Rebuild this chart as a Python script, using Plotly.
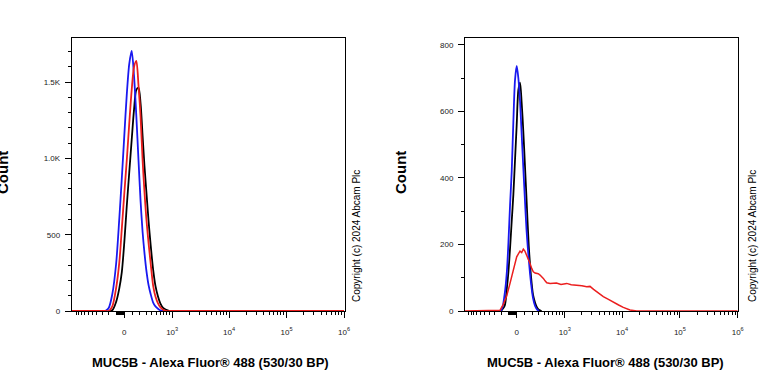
import numpy as np
import plotly.graph_objects as go

# ---------------- data ----------------
# Left panel: fluorescence intensity bins and counts
left_x = [-1500, -250, -200, -150, -100, -60, -30, 0, 30, 60, 90, 120, 150, 180, 210,
          240, 270, 300, 340, 380, 430, 480, 540, 600, 680, 780, 900, 1050, 1000000]
left_blue = [0, 0, 20, 110, 310, 610, 870, 1150, 1420, 1620, 1705, 1540, 1280, 990, 720,
             520, 380, 270, 170, 110, 55, 30, 15, 5, 0, 0, 0, 0, 0]
left_red = [0, 0, 0, 30, 150, 320, 540, 770, 990, 1230, 1448, 1600, 1640, 1480, 1270,
            990, 780, 610, 445, 310, 165, 95, 50, 25, 8, 0, 0, 0, 0]
left_black = [0, 0, 0, 5, 60, 150, 255, 450, 690, 910, 1121, 1320, 1450, 1465, 1360,
              1150, 950, 790, 590, 430, 270, 165, 95, 50, 20, 8, 0, 0, 0]

# Right panel
right_x = [-1500, -300, -200, -150, -120, -100, -80, -60, -40, -20, 0, 20, 40, 60, 80,
           100, 120, 150, 180, 210, 240, 270, 300, 350, 400, 500, 1000000]
right_blue = [0, 0, 1, 50, 120, 210, 320, 420, 570, 695, 737, 700, 630, 530, 430,
              335, 245, 155, 85, 38, 15, 5, 0, 0, 0, 0, 0]
right_black = [0, 0, 0, 15, 70, 120, 190, 270, 350, 455, 560, 665, 687, 625, 540,
               440, 340, 195, 105, 48, 25, 11, 4, 0, 0, 0, 0]
right_red_x = [-1500, -265, -215, -168, -123, -81, -41, 0, 20, 40, 60, 80, 100, 123, 145,
               167, 190, 213, 240, 265, 290, 321, 350, 382, 420, 452, 529, 700, 850, 1079,
               1300, 1624, 2000, 2431, 2775, 3200, 3627, 4722, 5800, 7038, 8700, 10485,
               13680, 17880, 1000000]
right_red = [0, 0, 2, 20, 45, 83, 125, 163, 172, 180, 176, 186, 180, 168, 155,
             143, 128, 118, 114, 113, 112, 108, 104, 98, 90, 85, 83, 84, 80, 83,
             79, 78, 76, 73, 74, 65, 58, 43, 35, 28, 18, 11, 3, 0, 0]

x_tick_values = [0, 1e3, 1e4, 1e5, 1e6]
x_tick_text = ["0", "10<sup>3</sup>", "10<sup>4</sup>", "10<sup>5</sup>", "10<sup>6</sup>"]
left_y_ticks = [0, 500, 1000, 1500]
left_y_text = ["0", "500", "1.0K", "1.5K"]
right_y_ticks = [0, 200, 400, 600, 800]
right_y_text = ["0", "200", "400", "600", "800"]
x_title = "MUC5B - Alexa Fluor® 488 (530/30 BP)"
y_title = "Count"
copyright_text = "Copyright (c) 2024 Abcam Plc"

# ---------------- biexponential-like display transform ----------------
COF = 300.0


def T(v):
    return np.arcsinh(np.asarray(v, dtype=float) / COF) / np.log(10)


minor_vals = ([-d * 100 for d in range(1, 11)] + [-d * 10 for d in range(1, 10)] +
              [d * 100 for d in range(1, 10)] +
              [m * 10 ** e for e in (3, 4, 5) for m in range(2, 10)])

BLUE = "rgb(25,25,240)"
RED = "rgb(235,30,30)"
BLACK = "rgb(0,0,0)"
FONT = "Arial, Liberation Sans, sans-serif"
W, H = 768, 384

fig = go.Figure()


def add(x, y, color, xa, ya, shape="spline", width=1.8, trim=True):
    x = list(x)
    y = list(y)
    if trim:
        # keep only the drawn hump (with its zero ends), not the long flat baseline
        nz = [i for i, v in enumerate(y) if v > 0]
        i0, i1 = max(nz[0] - 1, 0), min(nz[-1] + 1, len(y) - 1)
        x, y = x[i0:i1 + 1], y[i0:i1 + 1]
    fig.add_trace(go.Scatter(x=T(x), y=y, mode="lines", xaxis=xa, yaxis=ya,
                             line=dict(color=color, width=width, shape=shape, smoothing=0.8),
                             hoverinfo="skip", showlegend=False))


add(left_x, left_black, BLACK, "x", "y")
add(left_x, left_blue, BLUE, "x", "y")
add(left_x, left_red, RED, "x", "y", trim=False)
add(right_x, right_black, BLACK, "x2", "y2")
add(right_x, right_blue, BLUE, "x2", "y2")
add(right_red_x, right_red, RED, "x2", "y2", shape="linear", width=1.5, trim=False)

# pixel geometry
lx0, lx1 = 71.7, 345.0
rx0, rx1 = 465.0, 737.7
ytop, ybot = 38.0, 311.0
lzero, rzero = 124.3, 516.7


def xrange_for(x0, x1, zero, x6):
    k = (x6 - zero) / float(T(1e6))
    return [(x0 - zero) / k, (x1 - zero) / k]


common_x = dict(showline=True, linecolor="black", linewidth=1, mirror=True,
                ticks="outside", ticklen=6, tickwidth=1, tickcolor="black",
                tickmode="array", tickvals=T(x_tick_values), ticktext=x_tick_text,
                tickfont=dict(family=FONT, size=8, color="#222"),
                showgrid=False, zeroline=False, ticklabelstandoff=7, automargin=False,
                minor=dict(tickmode="array", tickvals=T(minor_vals), ticks="outside",
                           ticklen=3, tickwidth=1, tickcolor="black", showgrid=False),
                fixedrange=True)
common_y = dict(showline=True, linecolor="black", linewidth=1, mirror=True,
                ticks="outside", ticklen=6, tickwidth=1, tickcolor="black",
                tickfont=dict(family=FONT, size=8, color="#222"),
                showgrid=False, zeroline=False, ticklabelstandoff=3, automargin=False,
                minor=dict(dtick=100, ticks="outside", ticklen=3, tickwidth=1,
                           tickcolor="black", showgrid=False),
                tickmode="array", fixedrange=True)

ydom = [1 - ybot / H, 1 - ytop / H]

fig.update_layout(
    width=W, height=H, margin=dict(l=0, r=0, t=0, b=0, autoexpand=False),
    paper_bgcolor="white", plot_bgcolor="white",
    xaxis=dict(common_x, domain=[lx0 / W, lx1 / W], range=xrange_for(lx0, lx1, lzero, 344.0),
               anchor="y"),
    yaxis=dict(common_y, domain=ydom, range=[0, 1790], tickvals=left_y_ticks,
               ticktext=left_y_text, anchor="x"),
    xaxis2=dict(common_x, domain=[rx0 / W, rx1 / W], range=xrange_for(rx0, rx1, rzero, 737.7),
                anchor="y2"),
    yaxis2=dict(common_y, domain=ydom, range=[0, 821], tickvals=right_y_ticks,
                ticktext=right_y_text, anchor="x2"),
)

ann = []
for cx in (3.0, 401.0):
    ann.append(dict(text=f"<b>{y_title}</b>", x=cx / W, y=1 - 173 / H, xref="paper", yref="paper",
                    showarrow=False, textangle=-90, xanchor="center", yanchor="middle",
                    font=dict(family=FONT, size=15, color="black")))
for cx in (210.0, 605.0):
    ann.append(dict(text=f"<b>{x_title}</b>", x=cx / W, y=1 - 362 / H, xref="paper", yref="paper",
                    showarrow=False, xanchor="center", yanchor="middle",
                    font=dict(family=FONT, size=13, color="black")))
for cx in (356.0, 752.0):
    ann.append(dict(text=copyright_text, x=cx / W, y=1 - 236 / H, xref="paper", yref="paper",
                    showarrow=False, textangle=-90, xanchor="center", yanchor="middle",
                    font=dict(family=FONT, size=10, color="black")))
fig.update_layout(annotations=ann)

fig.write_html("out.html", config={"displayModeBar": False},
               post_script="document.body.style.margin='0';document.body.style.overflow='hidden';")
